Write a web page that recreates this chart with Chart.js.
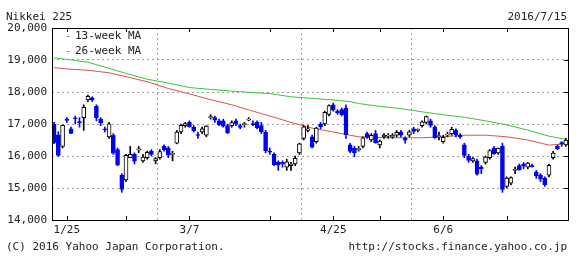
<!DOCTYPE html>
<html>
<head>
<meta charset="utf-8">
<script src="https://cdn.jsdelivr.net/npm/chart.js@4.4.1/dist/chart.umd.min.js"></script>
<style>
body{margin:0;background:#fff}
#box{width:580px;height:264px;position:relative}
</style>
</head>
<body>
<div id="box"><canvas id="chart"></canvas></div>
<script>
// trading days shown on the chart
let dates=["1/20","1/21","1/22","1/25","1/26","1/27","1/28","1/29",
"2/1","2/2","2/3","2/4","2/5","2/8","2/9","2/10","2/12","2/15","2/16","2/17","2/18","2/19","2/22","2/23","2/24","2/25","2/26","2/29",
"3/1","3/2","3/3","3/4","3/7","3/8","3/9","3/10","3/11","3/14","3/15","3/16","3/17","3/18","3/22","3/23","3/24","3/25","3/28","3/29","3/30","3/31",
"4/1","4/4","4/5","4/6","4/7","4/8","4/11","4/12","4/13","4/14","4/15","4/18","4/19","4/20","4/21","4/22","4/25","4/26","4/27","4/28",
"5/2","5/6","5/9","5/10","5/11","5/12","5/13","5/16","5/17","5/18","5/19","5/20","5/23","5/24","5/25","5/26","5/27","5/30","5/31",
"6/1","6/2","6/3","6/6","6/7","6/8","6/9","6/10","6/13","6/14","6/15","6/16","6/17","6/20","6/21","6/22","6/23","6/24","6/27","6/28","6/29","6/30",
"7/1","7/4","7/5","7/6","7/7","7/8","7/11","7/12","7/13","7/14","7/15"]

let opens=[17000,16650,16300,17150,16850,17180,17050,17200,17750,17820,
17550,17150,16850,16600,16650,16200,15400,15250,15950,16050,
16190,15850,15950,16150,15850,15950,16300,16250,16050,16400,
16750,16950,17050,16900,16650,16750,16650,17200,17200,17100,
17100,16950,16950,17100,16950,16980,17120,17000,17050,16950,
16750,16150,16050,15800,15800,15650,15700,15750,16100,16550,
16800,16600,16450,17000,17000,17300,17600,17400,17450,17500,
16350,16250,16200,16300,16700,16500,16700,16350,16600,16620,
16600,16650,16750,16550,16650,16850,16800,16950,17050,17100,
16900,16600,16450,16650,16700,16800,16650,16350,16000,15850,
15850,15650,15800,15950,16250,16100,16300,15050,15150,15550,
15700,15750,15650,15700,15500,15400,15300,15400,15950,16300,
16400,16350]

let highs=[17050,16760,16970,17200,16900,17250,17200,17600,17900,17850,
17600,17200,16900,17050,16700,16250,15450,16050,16300,16100,
16300,16050,16150,16200,15950,16200,16350,16300,16150,16800,
17000,17050,17100,16950,16750,16900,16950,17290,17250,17150,
17150,17000,17100,17150,17000,17050,17200,17100,17100,17050,
16800,16250,16100,15850,15850,15900,15800,16000,16400,16950,
16950,16650,16900,17050,17400,17600,17650,17450,17500,17600,
16400,16300,16300,16600,16750,16700,16800,16500,16700,16700,
16700,16800,16800,16600,16800,16900,16850,17100,17250,17150,
16950,16750,16650,16750,16900,16850,16700,16400,16050,15950,
15900,15700,16000,16200,16300,16250,16400,15350,15350,15650,
15750,15800,15800,15750,15550,15450,15350,15750,16150,16350,
16450,16550]

let lows=[16387,15990,16250,17050,16700,17000,16900,16800,17700,17700,
17100,16950,16750,16550,16050,15700,14865,15200,15950,15750,
16100,15800,15900,16000,15760,15900,16150,15950,15850,16380,
16700,16900,16900,16750,16550,16700,16600,17150,17050,16950,
16900,16700,16900,16950,16850,16900,17100,16950,16850,16700,
16100,16050,15700,15550,15650,15550,15550,15700,16050,16500,
16750,16250,16400,16850,16950,17250,17400,17300,17250,16550,
16100,15980,16150,16250,16550,16450,16400,16250,16550,16550,
16550,16600,16600,16400,16600,16700,16750,16900,17000,16900,
16550,16500,16400,16600,16650,16600,16550,15950,15800,15800,
15400,15450,15750,15900,16050,16050,14864,15000,15100,15450,
15550,15600,15600,15650,15300,15200,15050,15350,15900,16200,
16300,16300]

let closes=[16416,16017,16958,17110,16708,17163,17041,17518,17865,17750,
17191,17044,16819,17004,16085,15713,14952,16022,16054,15836,
16196,15967,16111,16052,15916,16140,16188,16026,16085,16747,
16960,17014,16911,16783,16642,16852,16938,17233,17117,16974,
16936,16724,17048,17000,16892,17002,17134,16978,16878,16758,
16164,16123,15732,15715,15749,15821,15751,15928,16381,16911,
16848,16275,16874,16906,17363,17572,17440,17353,17290,16666,
16147,16106,16216,16565,16579,16646,16412,16466,16652,16644,
16646,16736,16654,16498,16757,16772,16834,17068,17234,16955,
16562,16642,16580,16675,16830,16668,16601,16019,15859,15919,
15434,15599,15965,16169,16065,16238,14952,15309,15323,15566,
15575,15682,15775,15669,15378,15276,15106,15708,16095,16231,
16385,16497]

// weekly moving averages, one value per week
let maDates=["1/20","1/25","2/1","2/8","2/15","2/22","2/29","3/7","3/14","3/22","3/28","4/4","4/11","4/18",
"4/25","5/2","5/9","5/16","5/23","5/30","6/6","6/13","6/20","6/27","7/4","7/11","7/15"]
let ma13=[18760,18720,18680,18600,18480,18320,18110,17940,17760,17600,17440,17250,17050,16870,
16750,16650,16600,16580,16570,16570,16600,16650,16650,16600,16500,16340,16380]
let ma26=[19070,19020,18930,18740,18580,18400,18280,18140,18080,18030,17990,17950,17850,17800,
17750,17700,17640,17550,17480,17380,17290,17210,17100,16970,16810,16620,16520]

let majorTicks=["1/25","3/7","4/25","6/6"]
let minorTicks=["2/15","4/4","5/16","6/27"]
let yTicks=[14000,15000,16000,17000,18000,19000,20000]

let blue="#0000f0"
let font="'DejaVu Sans Mono', monospace"

let up=closes.map((c,i)=>c>=opens[i])
let bodies=opens.map((o,i)=>[o,closes[i]])
let wicks=lows.map((l,i)=>[l,highs[i]])

let extras={
id:"extras",
afterDraw(chart){
let ctx=chart.ctx
let a=chart.chartArea
let x=chart.scales.x
let y=chart.scales.y
ctx.save()
ctx.strokeStyle="#000"
ctx.lineWidth=1
ctx.strokeRect(Math.round(a.left)+0.5,Math.round(a.top)+0.5,Math.round(a.right-a.left),Math.round(a.bottom-a.top))
// small inward tick marks
ctx.beginPath()
majorTicks.concat(minorTicks).forEach(d=>{
let px=Math.round(x.getPixelForValue(dates.indexOf(d)))+0.5
ctx.moveTo(px,a.bottom);ctx.lineTo(px,a.bottom-4)
ctx.moveTo(px,a.top);ctx.lineTo(px,a.top+4)
})
yTicks.forEach(v=>{
let py=Math.round(y.getPixelForValue(v))+0.5
ctx.moveTo(a.right,py);ctx.lineTo(a.right-4,py)
})
ctx.stroke()

ctx.font="11px "+font
ctx.fillStyle="#222"
ctx.textBaseline="middle"
ctx.textAlign="left"
ctx.fillText("Nikkei 225",6,17)
ctx.fillText("(C) 2016 Yahoo Japan Corporation.",6,247)
ctx.textAlign="right"
ctx.fillText("2016/7/15",567,17)
ctx.fillText("http://stocks.finance.yahoo.co.jp",567,247)

// legend inside plot
ctx.textAlign="left"
ctx.fillStyle="#d9534f"
ctx.fillText("-",65,36)
ctx.fillStyle="#3cc43c"
ctx.fillText("-",65,51)
ctx.fillStyle="#222"
ctx.fillText("13-week MA",75,36)
ctx.fillText("26-week MA",75,51)
ctx.restore()
}
}

let ctx=document.getElementById("chart").getContext("2d")

let chart=new Chart(ctx,{
type:"bar",
data:{
labels:dates,
datasets:[
{
label:"body",
data:bodies,
grouped:false,
barThickness:4,
minBarLength:1,
borderSkipped:false,
borderWidth:1,
backgroundColor:c=>up[c.dataIndex]?"#fff":blue,
borderColor:c=>up[c.dataIndex]?"#000":blue,
order:1
},
{
label:"wick",
data:wicks,
grouped:false,
barThickness:1,
borderWidth:0,
backgroundColor:c=>up[c.dataIndex]?"#000":blue,
order:2
},
{
type:"line",
label:"13-week MA",
data:maDates.map((d,i)=>({x:d,y:ma13[i]})),
borderColor:"#d9534f",
borderWidth:1,
pointRadius:0,
tension:0,
order:3
},
{
type:"line",
label:"26-week MA",
data:maDates.map((d,i)=>({x:d,y:ma26[i]})),
borderColor:"#3cc43c",
borderWidth:1,
pointRadius:0,
tension:0,
order:4
}
]
},
options:{
responsive:true,
maintainAspectRatio:false,
animation:false,
layout:{padding:{left:0,right:12,top:28,bottom:24}},
plugins:{legend:{display:false},tooltip:{enabled:false}},
scales:{
x:{
offset:true,
afterBuildTicks:s=>{
s.ticks=s.ticks.filter(t=>majorTicks.includes(dates[t.value])||minorTicks.includes(dates[t.value]))
},
afterFit:s=>{s.height=20},
ticks:{
autoSkip:false,
maxRotation:0,
padding:4,
color:"#222",
font:{family:font,size:11},
callback:function(v){return majorTicks.includes(dates[v])?dates[v]:""}
},
grid:{
drawTicks:false,
color:c=>c.tick&&majorTicks.includes(dates[c.tick.value])?"#a0a0a0":"rgba(0,0,0,0)"
},
border:{display:false,dash:[2,3]}
},
y:{
min:14000,
max:20000,
afterFit:s=>{s.width=52},
afterBuildTicks:s=>{s.ticks=yTicks.map(v=>({value:v}))},
ticks:{
padding:5,
color:"#222",
font:{family:font,size:11}
},
grid:{
drawTicks:false,
color:"#a0a0a0"
},
border:{display:false,dash:[2,3]}
}
}
},
plugins:[extras]
})
</script>
</body>
</html>
